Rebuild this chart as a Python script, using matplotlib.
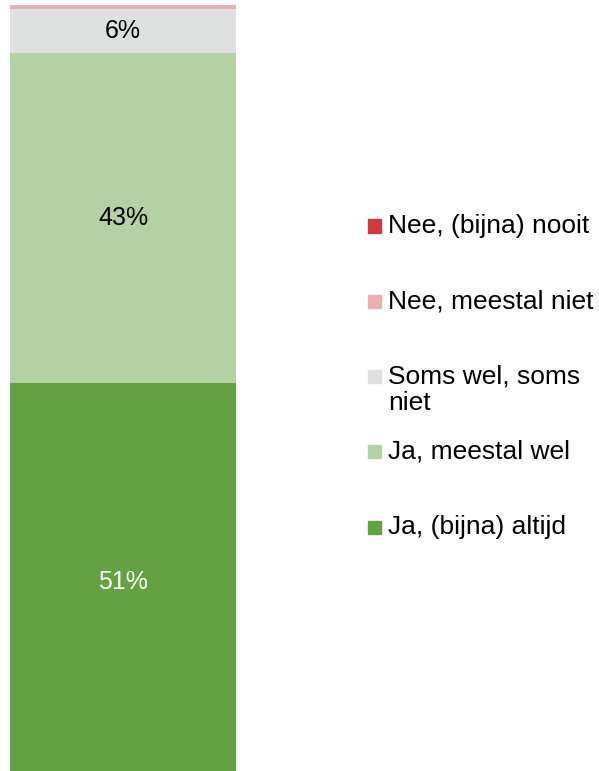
import numpy as np
import matplotlib.pyplot as plt
from matplotlib.patches import Rectangle

plt.rcParams['font.family'] = ['Liberation Sans', 'DejaVu Sans']

# Segments from bottom to top
categories = ['Ja, (bijna) altijd', 'Ja, meestal wel', 'Soms wel, soms\nniet',
              'Nee, meestal niet', 'Nee, (bijna) nooit']
values = [51.2, 42.6, 5.7, 0.5, 0.0]
colors = ['#63a142', '#b3d1a2', '#dfe0e0', '#e8b1b1', '#cf3b3b']
label_colors = ['white', 'black', 'black', 'black', 'black']

W, H = 599, 771
fig = plt.figure(figsize=(W / 100, H / 100), dpi=100)

# bar area: x 10..236 px, top at 5 px, bottom runs a bit past the image
ax = fig.add_axes([10 / W, -9 / H, 226 / W, (766 + 9) / H])
bottom = 0
for v, c, lc in zip(values, colors, label_colors):
    ax.bar(0, v, width=1.0, bottom=bottom, color=c, edgecolor='none')
    if v >= 3:
        ax.text(0, bottom + v / 2, f'{round(v)}%', ha='center', va='center',
                fontsize=18, color=lc)
    bottom += v
ax.set_xlim(-0.5, 0.5)
ax.set_ylim(0, 100)
ax.axis('off')

# legend, top entry first
y_first = 226
step = 75.3
line_h = 26
for i, (lab, c) in enumerate(zip(categories[::-1], colors[::-1])):
    yc = y_first + i * step
    fig.patches.append(Rectangle((368 / W, 1 - (yc + 6.5) / H), 13 / W, 13 / H,
                                 transform=fig.transFigure, color=c))
    for k, line in enumerate(lab.split('\n')):
        fig.text(388 / W, 1 - (yc + k * line_h) / H, line, ha='left', va='center',
                 fontsize=19, color='black')

fig.savefig('out.png', dpi=100)
